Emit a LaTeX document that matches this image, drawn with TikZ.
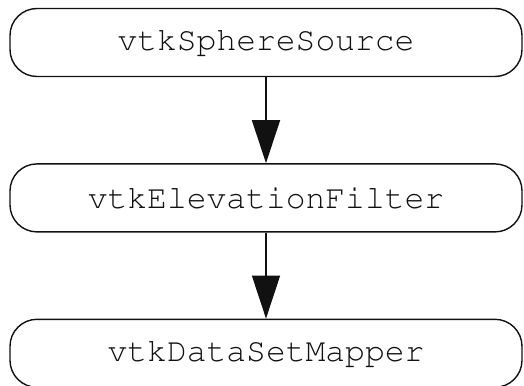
\documentclass[tikz,border=0pt]{standalone}
\usepackage[T1]{fontenc}
\usepackage{courier}
\usepackage{tikz}
\usetikzlibrary{positioning, arrows.meta}
\definecolor{pipeInk}{HTML}{111111}

\begin{document}
\begin{tikzpicture}[
    x=1pt, y=1pt,
    vtkBox/.style={draw=pipeInk, line width=1.4pt, rounded corners=27pt,
      minimum width=512pt, minimum height=68pt, inner sep=0pt,
      font=\ttfamily\fontsize{33}{36}\selectfont, text=pipeInk},
    pipeArrow/.style={draw=pipeInk, line width=1.4pt,
      -{Triangle[length=43pt, width=28pt]}},
    node distance=86pt,
  ]
  \useasboundingbox (0,0) rectangle (524,-385);
  % pipeline: source -> filter -> mapper
  \node[vtkBox] (source) at (266,-42.5) {vtkSphereSource};
  \node[vtkBox, below=of source] (filter) {vtkElevationFilter};
  \node[vtkBox, below=of filter] (mapper) {vtkDataSetMapper};
  \draw[pipeArrow] (source) -- (filter);
  \draw[pipeArrow] (filter) -- (mapper);
\end{tikzpicture}
\end{document}
